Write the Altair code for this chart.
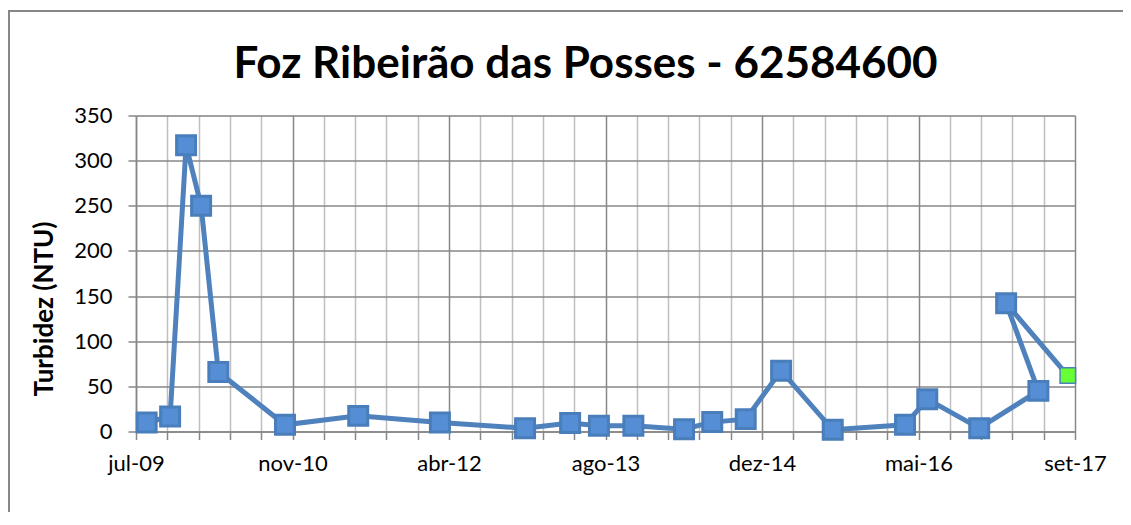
import altair as alt
import pandas as pd

# Sample dates and turbidity values (NTU), in the order they are joined
dates = ["2009-08-09", "2009-10-23", "2009-12-13", "2010-01-30", "2010-03-26",
         "2010-10-25", "2011-06-16", "2012-03-03", "2012-11-30", "2013-04-23",
         "2013-07-24", "2013-11-11", "2014-04-22", "2014-07-21", "2014-11-05",
         "2015-02-26", "2015-08-10", "2016-03-28", "2016-06-07", "2016-11-20",
         "2017-05-28", "2017-02-14", "2017-08-30"]
turbidez = [10, 16.6, 317, 250, 66, 7.4, 17.3, 10, 3.7, 9.3,
            6.3, 6.3, 2.6, 10.4, 13.7, 67.4, 1.9, 7.4, 35.8, 3.7,
            45, 142, 62]
highlight = [False] * 22 + [True]

x_labels = ["jul-09", "nov-10", "abr-12", "ago-13", "dez-14", "mai-16", "set-17"]
x_start, x_end, x_major, x_minor = 40000, 43000, 500, 100
y_ticks = [0, 50, 100, 150, 200, 250, 300, 350]

serial = (pd.to_datetime(pd.Series(dates)) - pd.Timestamp("1899-12-30")).dt.days
df = pd.DataFrame({"serial": serial, "turbidez": turbidez,
                   "idx": list(range(len(dates))), "destaque": highlight})

FONT = "Lato"
MAJOR = "#878787"
MINOR = "#BFBFBF"

x_values = list(range(x_start, x_end + 1, x_minor))
label_arr = "[" + ",".join("'" + s + "'" for s in x_labels) + "]"
label_expr = (f"(datum.value - {x_start}) % {x_major} == 0 ? "
              f"{label_arr}[round((datum.value - {x_start}) / {x_major})] : ''")

x_enc = alt.X(
    "serial:Q",
    scale=alt.Scale(domain=[x_start, x_end], nice=False, zero=False),
    axis=alt.Axis(
        values=x_values,
        tickCount=len(x_values) + 5,
        labelExpr=label_expr,
        title=None,
        grid=True,
        gridColor={"condition": {"test": f"(datum.value - {x_start}) % {x_major} == 0",
                                 "value": MAJOR}, "value": MINOR},
        gridWidth=1.5,
        tickColor=MAJOR, tickSize=8, tickWidth=1.5,
        domainColor=MAJOR, domainWidth=1.5,
        labelFont=FONT, labelFontSize=22, labelColor="#000000",
        labelPadding=14, labelOverlap=False, labelFlush=False,
    ),
)
y_enc = alt.Y(
    "turbidez:Q",
    scale=alt.Scale(domain=[0, 350], nice=False),
    axis=alt.Axis(
        values=y_ticks,
        tickCount=len(y_ticks) + 2,
        title="Turbidez (NTU)",
        titleFont=FONT, titleFontSize=26, titleFontWeight="bold", titleColor="#000000",
        titleX=-92, titleY=193, titleAngle=-90, titleAlign="center", titleBaseline="middle",
        grid=True, gridColor=MAJOR, gridWidth=1.5,
        tickColor=MAJOR, tickSize=8, tickWidth=1.5,
        domainColor=MAJOR, domainWidth=1.5,
        labelFont=FONT, labelFontSize=22, labelColor="#000000", labelPadding=16,
    ),
)

base = alt.Chart(df)

line = base.mark_line(color="#4F81BD", strokeWidth=5).encode(
    x=x_enc, y=y_enc, order=alt.Order("idx:Q"))

pts = base.transform_filter("!datum.destaque").mark_point(
    shape="square", filled=True, fill="#558ED5", stroke="#4A7EBB",
    strokeWidth=3, size=360, opacity=1).encode(x="serial:Q", y="turbidez:Q")

green = base.transform_filter("datum.destaque").mark_point(
    shape="square", filled=True, fill="#66FF33", stroke="#4F81BD",
    strokeWidth=1.5, size=240, opacity=1).encode(x="serial:Q", y="turbidez:Q")

# Chart-area frame (left and top edges visible in the picture)
frame_left = alt.Chart(df).mark_rule(color=MAJOR, strokeWidth=1.5).encode(
    x=alt.value(-127.3), y=alt.value(-104.5), y2=alt.value(420))
frame_top = alt.Chart(df).mark_rule(color=MAJOR, strokeWidth=1.5).encode(
    x=alt.value(-127.3), x2=alt.value(1100), y=alt.value(-104.5))

chart = alt.layer(frame_left, frame_top, line, pts, green).properties(
    width=939, height=316,
    title=alt.TitleParams("Foz Ribeirão das Posses - 62584600", font=FONT,
                          fontSize=44, fontWeight="bold", color="#000000",
                          anchor="middle", frame="group", dx=-20,
                          baseline="alphabetic", offset=-112),
    autosize=alt.AutoSizeParams(type="none"),
    padding={"left": 128, "top": 107.5, "right": 48, "bottom": 80},
).configure_view(strokeWidth=0).configure(background="#FFFFFF")

chart.save("out.html", embed_options={"renderer": "svg", "actions": False})
